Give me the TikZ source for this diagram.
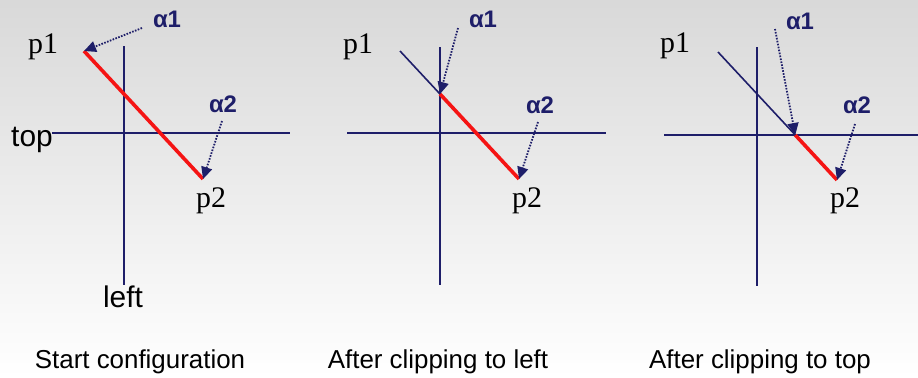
\documentclass[tikz,border=0pt]{standalone}
\usepackage{fontspec}
\setmainfont{Liberation Serif}
\newfontfamily\arialfont{Liberation Sans}
\usetikzlibrary{arrows.meta}
\definecolor{navyline}{RGB}{30,30,105}
\definecolor{cutred}{RGB}{245,20,20}
\tikzset{
  boundline/.style={navyline, line width=1.6bp},
  outseg/.style={navyline, line width=1.6bp},
  inseg/.style={cutred, line width=3.6bp},
  alphaarrow/.style={-{Triangle[length=12bp, width=11bp]}, dash pattern=on 1.6bp off 1.4bp, line width=1.8bp, navyline},
  ptlabel/.style={anchor=base, inner sep=0pt, font=\fontsize{30}{30}\selectfont},
  alphalabel/.style={anchor=base, inner sep=0pt, text=navyline, font=\arialfont\bfseries\fontsize{24}{24}\selectfont},
  bndlabel/.style={anchor=base, inner sep=0pt, font=\arialfont\fontsize{30}{30}\selectfont},
  caption/.style={anchor=base, inner sep=0pt, font=\arialfont\fontsize{26}{26}\selectfont}
}

\begin{document}
\begin{tikzpicture}[x=1bp, y=-1bp]
  \shade[top color=black!15, bottom color=white] (0,0) rectangle (918,377);
  \useasboundingbox (0,0) rectangle (918,377);

  % start configuration
  \coordinate (vt-1) at (124,46);
  \coordinate (vb-1) at (124,285);
  \coordinate (hl-1) at (52,133);
  \coordinate (hr-1) at (290,133);
  \coordinate (pa-1) at (84,51);
  \coordinate (pb-1) at (203,179);
  \draw[boundline] (vt-1) -- (vb-1);
  \draw[boundline] (hl-1) -- (hr-1);
  \draw[inseg] (pa-1) -- (pb-1);
  \node[ptlabel] (lp1-1) at (43,53) {p1};
  \node[ptlabel] (lp2-1) at (211,207) {p2};
  \node[alphalabel] (la1-1) at (167,27) {α1};
  \node[alphalabel] (la2-1) at (223,112) {α2};
  \coordinate (ta1-1) at (142,28);
  \coordinate (ta2-1) at (222,121);
  \draw[alphaarrow] (ta1-1) -- (pa-1);
  \draw[alphaarrow] (ta2-1) -- (pb-1);
  \node[bndlabel] (ll-1) at (123,307) {left};
  \node[bndlabel] (lt-1) at (32,146) {top};
  \node[caption] (cap-1) at (140,368) {Start configuration};

  % after clipping to left
  \coordinate (vt-2) at (440,47);
  \coordinate (vb-2) at (440,285);
  \coordinate (hl-2) at (347,133);
  \coordinate (hr-2) at (606,133);
  \coordinate (pa-2) at (400,51);
  \coordinate (pb-2) at (519,179);
  \coordinate (cut-2) at (intersection of pa-2--pb-2 and vt-2--vb-2);
  \draw[boundline] (vt-2) -- (vb-2);
  \draw[boundline] (hl-2) -- (hr-2);
  \draw[outseg] (pa-2) -- (cut-2);
  \draw[inseg] (cut-2) -- (pb-2);
  \node[ptlabel] (lp1-2) at (358,53) {p1};
  \node[ptlabel] (lp2-2) at (527,207) {p2};
  \node[alphalabel] (la1-2) at (483,27) {α1};
  \node[alphalabel] (la2-2) at (540,113) {α2};
  \coordinate (ta1-2) at (458,28);
  \coordinate (ta2-2) at (538,122);
  \draw[alphaarrow] (ta1-2) -- (cut-2);
  \draw[alphaarrow] (ta2-2) -- (pb-2);
  \node[caption] (cap-2) at (438,368) {After clipping to left};

  % after clipping to top
  \coordinate (vt-3) at (757,47);
  \coordinate (vb-3) at (757,286);
  \coordinate (hl-3) at (664,135);
  \coordinate (hr-3) at (920,135);
  \coordinate (pa-3) at (718,52);
  \coordinate (pb-3) at (837,180);
  \coordinate (cut-3) at (intersection of pa-3--pb-3 and hl-3--hr-3);
  \draw[boundline] (vt-3) -- (vb-3);
  \draw[boundline] (hl-3) -- (hr-3);
  \draw[outseg] (pa-3) -- (cut-3);
  \draw[inseg] (cut-3) -- (pb-3);
  \node[ptlabel] (lp1-3) at (675,52) {p1};
  \node[ptlabel] (lp2-3) at (845,207) {p2};
  \node[alphalabel] (la1-3) at (800,29) {α1};
  \node[alphalabel] (la2-3) at (857,113) {α2};
  \coordinate (ta1-3) at (775,29);
  \coordinate (ta2-3) at (855,124);
  \draw[alphaarrow] (ta1-3) -- (cut-3);
  \draw[alphaarrow] (ta2-3) -- (pb-3);
  \node[caption] (cap-3) at (760,368) {After clipping to top};
\end{tikzpicture}
\end{document}
